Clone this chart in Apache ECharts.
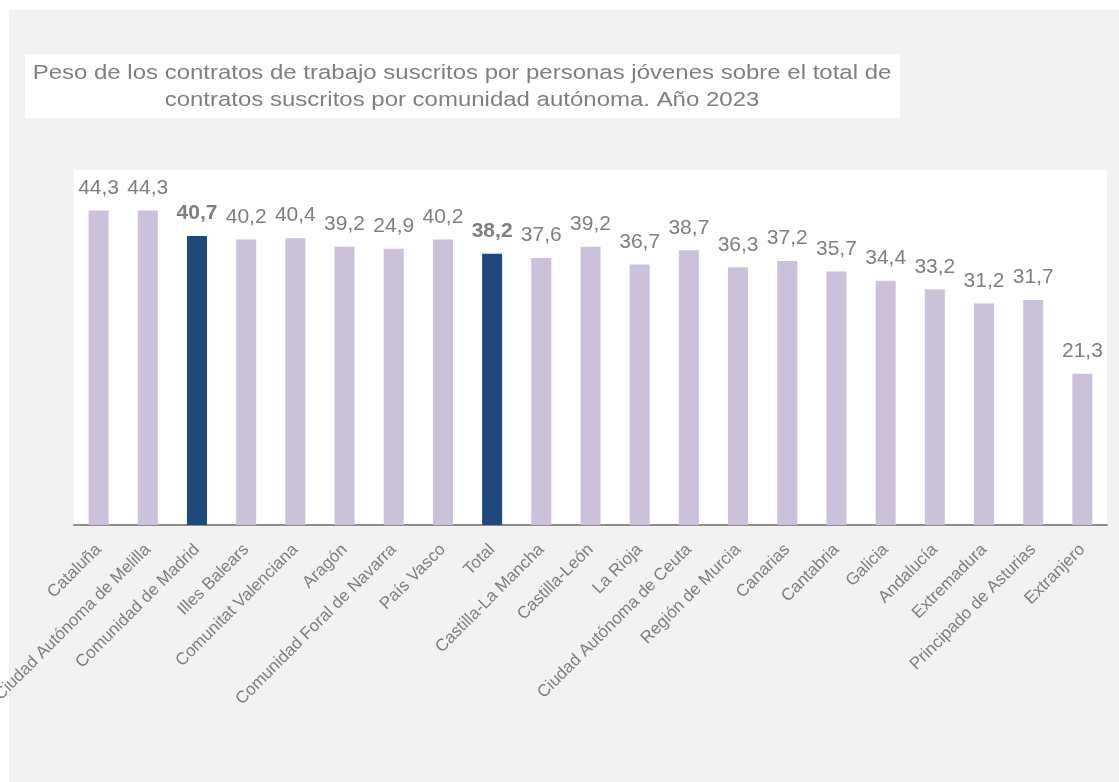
<!DOCTYPE html>
<html>
<head>
<meta charset="utf-8">
<title>Contratos jóvenes por comunidad autónoma 2023</title>
<script src="https://cdn.jsdelivr.net/npm/echarts@6/dist/echarts.min.js"></script>
<style>
  html, body { margin: 0; padding: 0; background: #ffffff; }
  #chart { width: 1119px; height: 782px; }
</style>
</head>
<body>
<div id="chart"></div>
<script>
// Categories in the order shown
const regions = [
  'Cataluña', 'Ciudad Autónoma de Melilla', 'Comunidad de Madrid', 'Illes Balears',
  'Comunitat Valenciana', 'Aragón', 'Comunidad Foral de Navarra', 'País Vasco', 'Total',
  'Castilla-La Mancha', 'Castilla-León', 'La Rioja', 'Ciudad Autónoma de Ceuta',
  'Región de Murcia', 'Canarias', 'Cantabria', 'Galicia', 'Andalucía', 'Extremadura',
  'Principado de Asturias', 'Extranjero'
];

// Bar heights as drawn (Navarra's bar is drawn near 38.9 although its label says 24,9)
const barValues = [
  44.3, 44.3, 40.7, 40.2, 40.4, 39.2, 38.9, 40.2, 38.2,
  37.6, 39.2, 36.7, 38.7, 36.3, 37.2, 35.7, 34.4, 33.2, 31.2, 31.7, 21.3
];

// Label texts printed above the bars
const labelTexts = [
  '44,3', '44,3', '40,7', '40,2', '40,4', '39,2', '24,9', '40,2', '38,2',
  '37,6', '39,2', '36,7', '38,7', '36,3', '37,2', '35,7', '34,4', '33,2', '31,2', '31,7', '21,3'
];

// Bars drawn in the darker colour
const highlighted = ['Comunidad de Madrid', 'Total'];

const titleLines = [
  'Peso de los contratos de trabajo suscritos por personas jóvenes sobre el total de',
  'contratos suscritos por comunidad autónoma. Año 2023'
];

const LILAC = '#cbc1da';
const NAVY = '#1f497c';
const GREY_TEXT = '#7f7f7f';
const FONT = '"Liberation Sans", Arial, sans-serif';

const chart = echarts.init(document.getElementById('chart'), null, { renderer: 'canvas' });

const seriesData = barValues.map((v, i) => {
  const hi = highlighted.includes(regions[i]);
  return {
    value: v,
    itemStyle: { color: hi ? NAVY : LILAC },
    label: { fontWeight: hi ? 'bold' : 'normal' }
  };
});

const option = {
  backgroundColor: '#ffffff',
  animation: false,
  graphic: [
    {
      type: 'rect', z: -10, silent: true,
      shape: { x: 9, y: 10, width: 1110, height: 772 },
      style: { fill: '#f2f2f2' }
    },
    {
      type: 'rect', z: -9, silent: true,
      shape: { x: 74, y: 170, width: 1033, height: 355 },
      style: { fill: '#ffffff' }
    },
    {
      type: 'rect', z: -9, silent: true,
      shape: { x: 25, y: 54, width: 875, height: 64 },
      style: { fill: '#ffffff' }
    },
    {
      // the title in the reference is set wider than plain Arial, hence the stretch
      type: 'text', z: 5, silent: true,
      x: 462, y: 87,
      scaleX: 1.17, scaleY: 1,
      style: {
        text: titleLines.join('\n'),
        fill: GREY_TEXT,
        font: '20.5px ' + FONT,
        align: 'center',
        verticalAlign: 'middle',
        lineHeight: 27
      }
    }
  ],
  grid: {
    left: 74, top: 170, width: 1033, height: 355,
    containLabel: false,
    outerBoundsMode: 'none'
  },
  xAxis: {
    type: 'category',
    data: regions,
    axisLine: { show: true, lineStyle: { color: '#8c8c8c', width: 2 } },
    axisTick: { show: false },
    axisLabel: {
      interval: 0,
      rotate: 45,
      margin: 22,
      color: GREY_TEXT,
      fontSize: 17,
      fontFamily: FONT
    }
  },
  yAxis: {
    type: 'value',
    min: 0,
    max: 50,
    show: false,
    splitLine: { show: false }
  },
  series: [
    {
      type: 'bar',
      barWidth: 20,
      data: seriesData,
      label: {
        show: true,
        position: 'top',
        distance: 12,
        color: GREY_TEXT,
        fontSize: 21,
        fontFamily: FONT,
        formatter: (p) => labelTexts[p.dataIndex]
      }
    }
  ]
};

chart.setOption(option);
</script>
</body>
</html>
